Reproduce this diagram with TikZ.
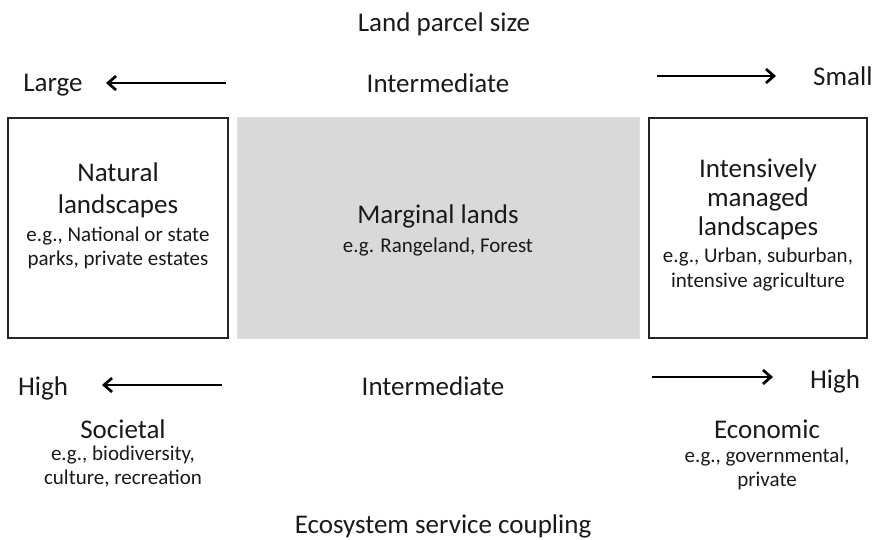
\documentclass[tikz,border=0pt]{standalone}
\usepackage{fontspec}
\setmainfont{Carlito}
\usetikzlibrary{arrows.meta}
\definecolor{panelgray}{HTML}{D9D9D9}
\definecolor{inkgray}{HTML}{1A1A1A}
\tikzset{
  big/.style={font=\fontsize{27}{30}\selectfont, text=inkgray, inner sep=0pt, anchor=base},
  small/.style={font=\fontsize{21}{25}\selectfont, text=inkgray, inner sep=0pt, anchor=base},
  landbox/.style={draw=black!85, line width=1.6pt, fill=white, inner sep=0pt},
  graybox/.style={draw=black!12, line width=1pt, fill=panelgray, inner sep=0pt},
  gradient arrow/.style={line width=2.7pt, draw=black, -{Straight Barb[length=8pt,width=14pt]}},
}
\begin{document}
\begin{tikzpicture}[x=1pt,y=-1pt]
\useasboundingbox (0,0) rectangle (875,540);

% heading and parcel-size scale
\node[big] (title) at (444,32) {Land parcel size};
\node[big] (large) at (53,92) {Large};
\node[big] (interTop) at (438,93) {Intermediate};
\node[big, anchor=base west] (small) at (813,86) {Small};
\coordinate (la0) at (226,83);
\coordinate (la1) at (106,83);
\coordinate (ra0) at (657,76);
\coordinate (ra1) at (776,76);
\draw[gradient arrow] (la0) -- (la1);
\draw[gradient arrow] (ra0) -- (ra1);

% the three land categories
\node[landbox, minimum width=220pt, minimum height=220pt] (natural) at (118,228) {};
\node[graybox, minimum width=402pt, minimum height=220pt] (marginal) at (438,228) {};
\node[landbox, minimum width=218pt, minimum height=220pt] (intensive) at (758,228) {};

\node[big] (nat1) at (118,182) {Natural};
\node[big] (nat2) at (118,213) {landscapes};
\node[small] (nat3) at (118,241) {e.g., National or state};
\node[small] (nat4) at (118,265) {parks, private estates};

\node[big] (mar1) at (438,223) {Marginal lands};
\node[small] (mar2) at (438,252) {e.g. Rangeland, Forest};

\node[big] (int1) at (758,178) {Intensively};
\node[big] (int2) at (758,207) {managed};
\node[big] (int3) at (758,235) {landscapes};
\node[small] (int4) at (758,262) {e.g., Urban, suburban,};
\node[small] (int5) at (758,287) {intensive agriculture};

% ecosystem service coupling scale
\node[big] (highL) at (43,395) {High};
\node[big] (interBot) at (433,395) {Intermediate};
\node[big] (highR) at (835,388) {High};
\coordinate (lb0) at (222,385);
\coordinate (lb1) at (102,385);
\coordinate (rb0) at (652,377);
\coordinate (rb1) at (773,377);
\draw[gradient arrow] (lb0) -- (lb1);
\draw[gradient arrow] (rb0) -- (rb1);

\node[big] (soc1) at (123,438) {Societal};
\node[small] (soc2) at (123,460) {e.g., biodiversity,};
\node[small] (soc3) at (123,484) {culture, recreation};

\node[big] (eco1) at (767,438) {Economic};
\node[small] (eco2) at (767,462) {e.g., governmental,};
\node[small] (eco3) at (767,486) {private};

\node[big] (footer) at (443,533) {Ecosystem service coupling};
\end{tikzpicture}
\end{document}
